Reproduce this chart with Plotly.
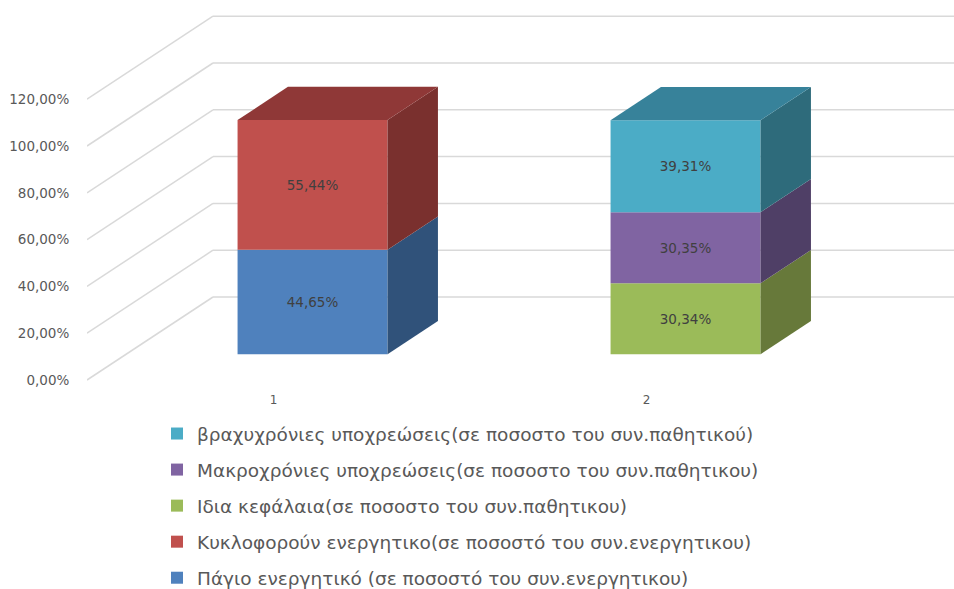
import plotly.graph_objects as go

# Balance-sheet structure, two stacked columns (percent of total)
categories = [1, 2]
series_names = [
    "Πάγιο ενεργητικό (σε ποσοστό του συν.ενεργητικου)",
    "Κυκλοφορούν ενεργητικο(σε ποσοστό του συν.ενεργητικου)",
    "Ιδια κεφάλαια(σε ποσοστο του συν.παθητικου)",
    "Μακροχρόνιες υποχρεώσεις(σε ποσοστο του συν.παθητικου)",
    "βραχυχρόνιες υποχρεώσεις(σε ποσοστο του συν.παθητικού)",
]
# each series lives in one column only
series_category = [1, 1, 2, 2, 2]
series_values = [44.65, 55.44, 30.34, 30.35, 39.31]
tick_values = [0, 20, 40, 60, 80, 100, 120]


def pct(v):
    return f"{v:.2f}".replace(".", ",") + "%"


tick_labels = [pct(v) for v in tick_values]

front_colors = ["#4F81BD", "#C0504D", "#9BBB59", "#8064A2", "#4BACC6"]
side_colors = ["#30527A", "#7A302E", "#67793A", "#4F3F66", "#2E6B7B"]
top_colors = ["#3A6295", "#8F3837", "#7A9443", "#654F85", "#37829A"]

# oblique projection settings (axis units)
W, H = 954, 589
L, T, PLOT_H = 87, 0, 384
PLOT_W = W - L
PX_PER_PCT = 2.34
PX_PER_CAT = 373.0
WALL_DX = 126 / PX_PER_CAT          # full depth, x shift
WALL_DY = 83 / PX_PER_PCT           # full depth, y shift
FRONT_GAP = 0.31                    # depth fraction before the bar face
BAR_DEPTH = 0.40                    # depth fraction of the bar
HALF_W = 75 / PX_PER_CAT

x0 = 0.5
x_range = [x0, x0 + PLOT_W / PX_PER_CAT]
y_top = 380 / PX_PER_PCT
y_range = [y_top - PLOT_H / PX_PER_PCT, y_top]

fig = go.Figure()

# walls: diagonal lines on the side wall, horizontal lines on the back wall
grid = dict(color="#D9D9D9", width=1.5)
shapes = []
for v in tick_values:
    shapes.append(dict(type="line", xref="x", yref="y", layer="below",
                       x0=x0, y0=v, x1=x0 + WALL_DX, y1=v + WALL_DY, line=grid))
    shapes.append(dict(type="line", xref="x", yref="y", layer="below",
                       x0=x0 + WALL_DX, y0=v + WALL_DY, x1=x_range[1] + 1,
                       y1=v + WALL_DY, line=grid))

gx = FRONT_GAP * WALL_DX
gy = FRONT_GAP * WALL_DY
dx = BAR_DEPTH * WALL_DX
dy = BAR_DEPTH * WALL_DY

stack = {c: 0.0 for c in categories}
tops = {}
n = len(series_names)
for i, (name, cat, val) in enumerate(zip(series_names, series_category, series_values)):
    base = stack[cat]
    stack[cat] = base + val
    tops[cat] = i
    # front face
    fig.add_trace(go.Bar(
        x=[cat], y=[val], base=[base + gy], offset=gx - HALF_W, width=2 * HALF_W,
        marker=dict(color=front_colors[i], line=dict(width=0)),
        name=name, legendgroup=f"g{i}", legendrank=n - i,
        text=[pct(val)],
        textposition="inside", insidetextanchor="middle",
        textfont=dict(color="#404040", size=13.5, family="DejaVu Sans"),
        hoverinfo="skip",
    ))
    # right side face
    xr = cat + gx + HALF_W
    fig.add_trace(go.Scatter(
        x=[xr, xr, xr + dx, xr + dx, xr],
        y=[base + gy, base + val + gy, base + val + gy + dy, base + gy + dy, base + gy],
        fill="toself", fillcolor=side_colors[i], mode="lines",
        line=dict(width=0, color=side_colors[i]),
        showlegend=False, hoverinfo="skip",
    ))

# top faces of the columns
for cat in categories:
    i = tops[cat]
    top = stack[cat] + gy
    xl = cat + gx - HALF_W
    xr = cat + gx + HALF_W
    fig.add_trace(go.Scatter(
        x=[xl, xr, xr + dx, xl + dx, xl],
        y=[top, top, top + dy, top + dy, top],
        fill="toself", fillcolor=top_colors[i], mode="lines",
        line=dict(width=0, color=top_colors[i]),
        showlegend=False, hoverinfo="skip",
    ))

fig.update_layout(
    width=W, height=H,
    margin=dict(l=L, r=0, t=T, b=H - PLOT_H - T, autoexpand=False),
    paper_bgcolor="white", plot_bgcolor="white",
    barmode="overlay",
    shapes=shapes,
    showlegend=True,
    legend=dict(
        x=(157 - L) / PLOT_W, y=(PLOT_H - 415) / PLOT_H,
        xanchor="left", yanchor="top",
        traceorder="grouped", tracegroupgap=9,
        font=dict(family="DejaVu Sans", size=18.5, color="#595959"),
        bgcolor="rgba(0,0,0,0)",
    ),
    xaxis=dict(range=x_range, tickvals=categories, ticktext=[str(c) for c in categories],
               showgrid=False, zeroline=False, showline=False,
               ticks="outside", ticklen=5, tickcolor="rgba(0,0,0,0)",
               tickfont=dict(family="DejaVu Sans", size=12, color="#595959"),
               fixedrange=True),
    yaxis=dict(range=y_range, tickvals=tick_values, ticktext=tick_labels,
               showgrid=False, zeroline=False, showline=False,
               ticks="outside", ticklen=14, tickcolor="rgba(0,0,0,0)",
               tickfont=dict(family="DejaVu Sans", size=13.5, color="#595959"),
               fixedrange=True),
)

fig.write_html("out.html")
